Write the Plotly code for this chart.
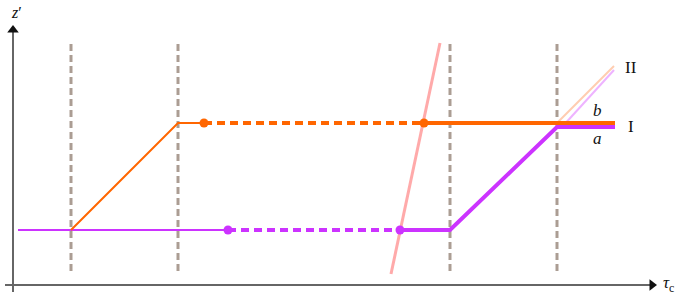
import plotly.graph_objects as go

# --- data (chart coordinates: x to the right, y measured downward) ---
guide_x = [71, 178, 450, 557]
guide_y = [44, 273]

mag_thin_x = [18, 228]
mag_thin_y = [230, 230]
mag_dash_x = [228, 400]
mag_dash_y = [230, 230]
mag_thick_x = [400, 450, 557, 615]
mag_thick_y = [230, 230, 127, 127]
mag_dots_x = [228, 400]
mag_dots_y = [230, 230]

org_thin_x = [71, 178, 204]
org_thin_y = [230, 123, 123]
org_dash_x = [204, 424]
org_dash_y = [123, 123]
org_thick_x = [424, 615]
org_thick_y = [123, 123]
org_dots_x = [204, 424]
org_dots_y = [123, 123]

faint_org_x = [557, 614]
faint_org_y = [123, 66]
faint_mag_x = [562, 614]
faint_mag_y = [127, 70]

pink_x = [391, 440]
pink_y = [274, 43]

labels = ["II", "I", "<i>b</i>", "<i>a</i>"]
labels_x = [631, 631, 597, 597]
labels_y = [67, 126, 110, 138]

MAG = "#cc33ff"
ORG = "#ff6600"
SERIF = "Liberation Serif, DejaVu Serif, serif"

fig = go.Figure()

# axes lines
fig.add_trace(go.Scatter(x=[13, 13], y=[292, 32], mode="lines",
                         line=dict(color="#666666", width=2)))
fig.add_trace(go.Scatter(x=[5, 650], y=[285, 285], mode="lines",
                         line=dict(color="#666666", width=2)))
fig.add_trace(go.Scatter(x=[13], y=[30], mode="markers",
                         marker=dict(symbol="triangle-up", size=10, color="#111111")))
fig.add_trace(go.Scatter(x=[652], y=[285], mode="markers",
                         marker=dict(symbol="triangle-right", size=10, color="#111111")))

for gx in guide_x:
    fig.add_trace(go.Scatter(x=[gx, gx], y=guide_y, mode="lines",
                             line=dict(color="#ab9d93", width=3, dash="7px,4px"),
                             hoverinfo="skip"))

fig.add_trace(go.Scatter(x=pink_x, y=pink_y, mode="lines",
                         line=dict(color="#ffaaaa", width=3)))
fig.add_trace(go.Scatter(x=faint_org_x, y=faint_org_y, mode="lines",
                         line=dict(color="#ffcdb0", width=2)))
fig.add_trace(go.Scatter(x=faint_mag_x, y=faint_mag_y, mode="lines",
                         line=dict(color="#eeb3ff", width=2)))

fig.add_trace(go.Scatter(x=mag_thin_x, y=mag_thin_y, mode="lines",
                         line=dict(color=MAG, width=2)))
fig.add_trace(go.Scatter(x=mag_dash_x, y=mag_dash_y, mode="lines",
                         line=dict(color=MAG, width=4, dash="8px,5px")))
fig.add_trace(go.Scatter(x=mag_thick_x, y=mag_thick_y, mode="lines",
                         line=dict(color=MAG, width=4)))
fig.add_trace(go.Scatter(x=org_thin_x, y=org_thin_y, mode="lines",
                         line=dict(color=ORG, width=2)))
fig.add_trace(go.Scatter(x=org_dash_x, y=org_dash_y, mode="lines",
                         line=dict(color=ORG, width=4, dash="8px,5px")))
fig.add_trace(go.Scatter(x=org_thick_x, y=org_thick_y, mode="lines",
                         line=dict(color=ORG, width=4)))
fig.add_trace(go.Scatter(x=mag_dots_x, y=mag_dots_y, mode="markers",
                         marker=dict(color=MAG, size=9)))
fig.add_trace(go.Scatter(x=org_dots_x, y=org_dots_y, mode="markers",
                         marker=dict(color=ORG, size=9)))

fig.add_annotation(x=16, y=12, text="<i>z</i>′", showarrow=False,
                   font=dict(family=SERIF, size=16, color="#111111"))
fig.add_annotation(x=668, y=284, text="<i>τ</i><sub>c</sub>", showarrow=False,
                   font=dict(family=SERIF, size=17, color="#111111"))

for t, lx, ly in zip(labels, labels_x, labels_y):
    fig.add_annotation(x=lx, y=ly, text=t, showarrow=False,
                       font=dict(family=SERIF, size=17, color="#111111"))

fig.update_layout(
    width=681, height=298,
    margin=dict(l=0, r=0, t=0, b=0),
    paper_bgcolor="white", plot_bgcolor="white",
    showlegend=False,
    xaxis=dict(range=[0, 681], visible=False, fixedrange=True),
    yaxis=dict(range=[298, 0], visible=False, fixedrange=True),
)

fig.write_html("out.html", config={"displayModeBar": False},
               post_script="document.body.style.margin='0';document.body.style.overflow='hidden';")
